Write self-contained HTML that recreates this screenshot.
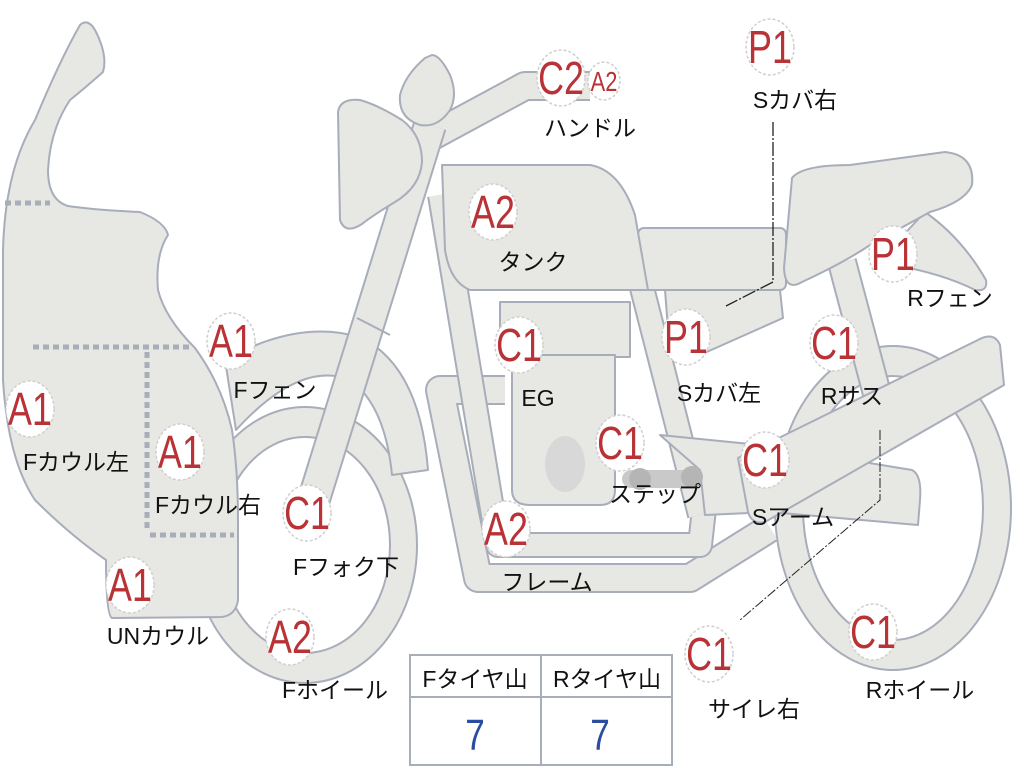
<!DOCTYPE html>
<html><head><meta charset="utf-8"><style>
html,body{margin:0;padding:0;background:#fff;}
svg{display:block;}
.s{fill:#e7e7e3;stroke:#a8adba;stroke-width:2;stroke-linejoin:round;}
.to{fill:none;stroke:#a8adba;stroke-linecap:butt;stroke-linejoin:round;}
.ti{fill:none;stroke:#e7e7e3;stroke-linecap:butt;stroke-linejoin:round;}
.b{fill:#fff;stroke:#cfcfcf;stroke-width:1.5;stroke-dasharray:3 2;}
.bt{fill:#b83236;font-family:"Liberation Sans",sans-serif;font-size:46px;text-anchor:middle;}
.l{fill:#111;font-family:"Liberation Sans","Noto Sans CJK JP",sans-serif;font-size:23px;text-anchor:middle;}
.d{fill:none;stroke:#a8adba;stroke-width:5;stroke-dasharray:6 4;}
</style></head><body>
<svg width="1024" height="768" viewBox="0 0 1024 768" xmlns="http://www.w3.org/2000/svg">
<!-- wheels -->
<path class="s" fill-rule="evenodd" d="M193,545 a112,138 0 1,0 224,0 a112,138 0 1,0 -224,0 Z M220,545 a85,108 0 1,0 170,0 a85,108 0 1,0 -170,0 Z"/>
<path class="s" fill-rule="evenodd" d="M775,508 a118,162 0 1,0 236,0 a118,162 0 1,0 -236,0 Z M803,508 a90,132 0 1,0 180,0 a90,132 0 1,0 -180,0 Z"/>
<!-- front fender -->
<path class="s" d="M225,360 Q300,318 362,338 Q420,368 428,470 L392,475 Q385,405 350,380 Q300,360 236,430 Z"/>
<!-- rear suspension -->
<path class="to" stroke-width="30" d="M842,262 L880,405"/><path class="ti" stroke-width="26" d="M842,262 L880,405"/>
<!-- frame tubes -->
<path class="to" stroke-width="30" d="M505,390 L440,390 L478,578 L690,578 L770,528"/>
<path class="ti" stroke-width="26" d="M505,390 L440,390 L478,578 L690,578 L770,528"/>
<path class="to" stroke-width="26" d="M440,195 L498,545 L700,545 L705,500"/>
<path class="ti" stroke-width="22" d="M440,195 L498,545 L700,545 L705,500"/>
<path class="to" stroke-width="26" d="M640,280 L700,515"/><path class="ti" stroke-width="22" d="M640,280 L700,515"/>
<!-- swingarm / step bracket -->
<path class="s" d="M660,435 L760,445 L912,470 Q922,475 920,500 L918,525 L770,512 L705,515 L700,470 Z"/>
<!-- engine -->
<rect class="s" x="500" y="302" width="130" height="55"/>
<path class="s" d="M512,355 L615,355 L615,490 Q615,505 600,505 L530,505 Q512,505 512,490 Z"/>
<ellipse cx="565" cy="464" rx="20" ry="28" fill="#d8d8d8"/>
<rect x="622" y="470" width="80" height="18" rx="9" fill="#c9c9c9"/>
<circle cx="640" cy="479" r="11" fill="#b5b5b5"/><circle cx="692" cy="477" r="11" fill="#b5b5b5"/>
<!-- exhaust / S arm -->
<path class="s" d="M738,458 L982,338 Q995,333 1000,345 L1004,385 L765,522 Q752,525 748,512 Z"/>
<!-- side cover left -->
<path class="s" d="M665,290 L780,290 L783,318 L700,355 L670,355 Z"/>
<!-- seat front -->
<rect class="s" x="638" y="228" width="148" height="62" rx="6"/>
<!-- rear fender -->
<path class="s" d="M925,212 Q962,238 986,280 Q988,292 975,290 Q940,272 878,262 Z"/>
<!-- seat rear -->
<path class="s" d="M792,178 Q802,165 850,165 L945,152 Q975,155 972,185 Q965,202 930,212 L870,245 Q845,262 802,282 Q785,292 784,268 Z"/>
<!-- tank -->
<path class="s" d="M442,165 L590,165 Q620,170 635,215 L648,290 L470,290 Q450,282 445,250 Z"/>
<!-- handlebar -->
<path class="to" stroke-width="30" d="M425,140 L525,86 L590,86"/><path class="ti" stroke-width="26" d="M425,140 L525,86 L590,86"/>
<!-- fork -->
<path class="to" stroke-width="34" d="M430,125 L305,528"/><path class="ti" stroke-width="30" d="M430,125 L305,528"/>
<path d="M357,318 L390,335" stroke="#a8adba" stroke-width="2"/>
<!-- mirror/meter -->
<path class="s" d="M432,55 Q440,55 450,75 Q458,95 450,110 Q438,128 420,125 Q398,118 400,95 Q405,75 425,58 Z"/>
<!-- headlight -->
<path class="s" d="M338,112 Q340,98 360,100 Q378,105 402,120 Q422,135 422,162 Q420,187 395,202 Q372,216 362,224 Q345,235 340,220 Z"/>
<!-- fairing -->
<path class="s" d="M3,250 Q5,170 35,120 Q60,60 80,25 Q88,18 95,30 Q108,55 103,72 Q85,88 70,100 Q50,130 48,170 Q48,200 68,206 Q95,210 140,212 Q165,222 168,235 Q155,255 158,290 Q165,318 195,348 Q222,385 232,430 Q238,470 238,520 L238,600 Q236,615 222,617 L112,618 Q106,615 106,560 Q70,535 35,500 Q8,460 3,380 Z"/>
<path class="d" d="M5,203 L50,203"/>
<path class="d" d="M33,347 L192,347"/>
<path class="d" d="M147,352 L147,530"/>
<path class="d" d="M150,535 L234,535"/>
<!-- leader lines -->
<path d="M773,122 L773,282 L726,306" fill="none" stroke="#222" stroke-width="1.3" stroke-dasharray="14 2 2 2"/>
<path d="M880,430 L880,500 L740,620" fill="none" stroke="#222" stroke-width="1" stroke-dasharray="10 2 2 2"/>
<!-- table -->
<rect x="410" y="655" width="262" height="110" fill="#fff" stroke="#a8adba" stroke-width="2"/>
<line x1="410" y1="697" x2="672" y2="697" stroke="#a8adba" stroke-width="2"/>
<line x1="541" y1="655" x2="541" y2="765" stroke="#a8adba" stroke-width="2"/>
<text class="l" x="475" y="687">Fタイヤ山</text>
<text class="l" x="607" y="687">Rタイヤ山</text>
<text x="475" y="750" fill="#2a4da0" font-family="Liberation Sans,sans-serif" font-size="44" text-anchor="middle" transform="translate(475,0) scale(0.8,1) translate(-475,0)">7</text>
<text x="600" y="750" fill="#2a4da0" font-family="Liberation Sans,sans-serif" font-size="44" text-anchor="middle" transform="translate(600,0) scale(0.8,1) translate(-600,0)">7</text>
<!-- badges -->
<g>
<ellipse class="b" cx="561" cy="78" rx="24" ry="28"/><text class="bt" transform="translate(561,94) scale(0.78,1)">C2</text>
<ellipse class="b" cx="604" cy="81" rx="16" ry="19"/><text class="bt" style="font-size:28px" transform="translate(604,91) scale(0.78,1)">A2</text>
<ellipse class="b" cx="770" cy="47" rx="24" ry="28"/><text class="bt" transform="translate(770,63) scale(0.78,1)">P1</text>
<ellipse class="b" cx="493" cy="212" rx="24" ry="28"/><text class="bt" transform="translate(493,228) scale(0.78,1)">A2</text>
<ellipse class="b" cx="231" cy="341" rx="24" ry="28"/><text class="bt" transform="translate(231,357) scale(0.78,1)">A1</text>
<ellipse class="b" cx="519" cy="345" rx="24" ry="28"/><text class="bt" transform="translate(519,361) scale(0.78,1)">C1</text>
<ellipse class="b" cx="686" cy="337" rx="24" ry="28"/><text class="bt" transform="translate(686,353) scale(0.78,1)">P1</text>
<ellipse class="b" cx="834" cy="343" rx="24" ry="28"/><text class="bt" transform="translate(834,359) scale(0.78,1)">C1</text>
<ellipse class="b" cx="893" cy="254" rx="24" ry="28"/><text class="bt" transform="translate(893,270) scale(0.78,1)">P1</text>
<ellipse class="b" cx="30" cy="409" rx="24" ry="28"/><text class="bt" transform="translate(30,425) scale(0.78,1)">A1</text>
<ellipse class="b" cx="180" cy="452" rx="24" ry="28"/><text class="bt" transform="translate(180,468) scale(0.78,1)">A1</text>
<ellipse class="b" cx="620" cy="443" rx="24" ry="28"/><text class="bt" transform="translate(620,459) scale(0.78,1)">C1</text>
<ellipse class="b" cx="765" cy="460" rx="24" ry="28"/><text class="bt" transform="translate(765,476) scale(0.78,1)">C1</text>
<ellipse class="b" cx="307" cy="513" rx="24" ry="28"/><text class="bt" transform="translate(307,529) scale(0.78,1)">C1</text>
<ellipse class="b" cx="506" cy="529" rx="24" ry="28"/><text class="bt" transform="translate(506,545) scale(0.78,1)">A2</text>
<ellipse class="b" cx="130" cy="585" rx="24" ry="28"/><text class="bt" transform="translate(130,601) scale(0.78,1)">A1</text>
<ellipse class="b" cx="290" cy="637" rx="24" ry="28"/><text class="bt" transform="translate(290,653) scale(0.78,1)">A2</text>
<ellipse class="b" cx="709" cy="654" rx="24" ry="28"/><text class="bt" transform="translate(709,670) scale(0.78,1)">C1</text>
<ellipse class="b" cx="873" cy="632" rx="24" ry="28"/><text class="bt" transform="translate(873,648) scale(0.78,1)">C1</text>
</g>
<!-- labels -->
<text class="l" x="590" y="136">ハンドル</text>
<text class="l" x="795" y="108">Sカバ右</text>
<text class="l" x="533" y="270">タンク</text>
<text class="l" x="275" y="398">Fフェン</text>
<text class="l" x="538" y="406">EG</text>
<text class="l" x="719" y="401">Sカバ左</text>
<text class="l" x="852" y="404">Rサス</text>
<text class="l" x="950" y="306">Rフェン</text>
<text class="l" x="76" y="470">Fカウル左</text>
<text class="l" x="208" y="513">Fカウル右</text>
<text class="l" x="655" y="502">ステップ</text>
<text class="l" x="793" y="525">Sアーム</text>
<text class="l" x="346" y="575">Fフォク下</text>
<text class="l" x="547" y="590">フレーム</text>
<text class="l" x="158" y="644">UNカウル</text>
<text class="l" x="335" y="698">Fホイール</text>
<text class="l" x="754" y="717">サイレ右</text>
<text class="l" x="920" y="698">Rホイール</text>
</svg>
</body></html>
